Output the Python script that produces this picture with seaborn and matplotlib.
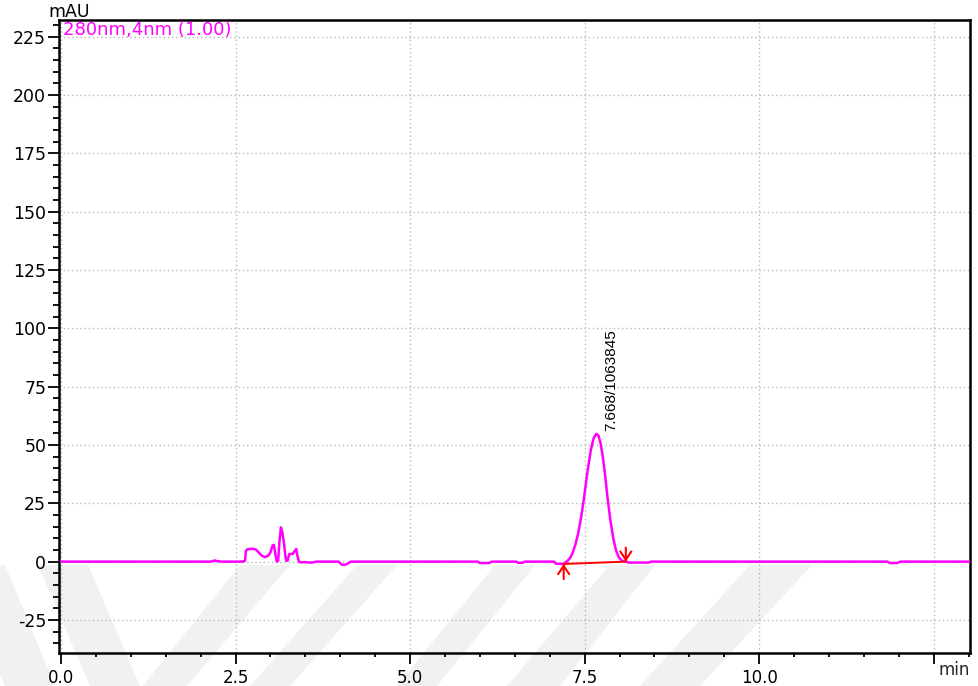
import matplotlib
matplotlib.use("Agg")
import matplotlib.pyplot as plt
from matplotlib import font_manager
from matplotlib.patches import Polygon
from matplotlib.ticker import MultipleLocator, FixedLocator
import seaborn as sns
import pandas as pd

# ---- chromatogram trace (time in min, absorbance in mAU) ----
time_min = [0.00, 2.15, 2.20, 2.24, 2.30, 2.60, 2.635, 2.65, 2.67, 2.75, 2.79,
            2.83, 2.875, 2.92, 2.97, 3.00, 3.03, 3.05, 3.07, 3.09, 3.11, 3.13,
            3.15, 3.17, 3.195, 3.21, 3.225, 3.245, 3.27, 3.32, 3.35, 3.37,
            3.385, 3.41, 3.43, 3.50, 3.55, 3.62, 3.65, 3.98, 4.02, 4.06, 4.10,
            4.15, 5.97, 6.00, 6.13, 6.17, 6.52, 6.55, 6.61, 6.64, 7.06, 7.09,
            7.20, 7.25, 7.29, 7.33, 7.37, 7.41, 7.45, 7.49, 7.54, 7.59, 7.63,
            7.668, 7.70, 7.73, 7.76, 7.79, 7.83, 7.87, 7.91, 7.95, 7.99, 8.03,
            8.07, 8.10, 8.13, 8.42, 8.45, 11.84, 11.87, 11.98, 12.02, 13.05]
absorbance = [0.0, 0.0, 0.5, 0.2, 0.0, 0.0, 0.3, 4.7, 5.3, 5.5, 5.2,
              4.0, 2.6, 1.9, 2.6, 4.0, 6.9, 7.2, 3.3, 0.0, 0.4, 9.0,
              14.7, 12.6, 7.6, 3.3, 0.4, 0.4, 3.3, 3.3, 4.7, 5.4,
              2.6, 0.0, -0.3, -0.2, -0.4, -0.3, 0.0, 0.0, -1.3, -1.4, -1.0,
              0.0, 0.0, -0.6, -0.6, 0.0, 0.0, -0.5, -0.5, 0.0, 0.0, -0.9,
              -1.0, 0.2, 1.5, 3.8, 7.5, 12.5, 19.0, 27.0, 38.5, 48.0, 53.0,
              54.8, 54.0, 50.5, 45.0, 38.0, 27.0, 17.5, 10.0, 4.8, 1.8, 0.5,
              0.1, 0.0, -0.4, -0.4, 0.0, 0.0, -0.6, -0.6, 0.0, 0.0]

# ---- integrated peak ----
peak_rt = 7.668
peak_area = 1063845
peak_height = 54.8
peak_label = f"{peak_rt:.3f}/{peak_area}"
baseline_t = [7.20, 8.09]
baseline_y = [-1.0, 0.0]

# ---- axes ticks ----
x_major = [0.0, 2.5, 5.0, 7.5, 10.0, 12.5]
x_labels = ["0.0", "2.5", "5.0", "7.5", "10.0", ""]
y_major = [-25, 0, 25, 50, 75, 100, 125, 150, 175, 200, 225]
y_labels = [str(v) for v in y_major]
channel_text = "280nm,4nm (1.00)"
trace_color = "#ff00ff"

sns.set_style("white")
plt.rcParams["font.family"] = ["DejaVu Sans"]

installed = {f.name for f in font_manager.fontManager.ttflist}
narrow = "Liberation Sans Narrow" if "Liberation Sans Narrow" in installed else "Liberation Sans"

W, H = 979, 686
fig = plt.figure(figsize=(W / 100, H / 100), dpi=100)
fig.patch.set_facecolor("white")

# faint diagonal background stripes along the bottom of the page (pixel space)
stripes = [
    [(-45, 565), (5, 565), (55, 686), (5, 686)],
    [(38, 565), (88, 565), (140, 686), (90, 686)],
    [(240, 565), (290, 565), (187, 686), (143, 686)],
    [(357, 565), (397, 565), (290, 686), (250, 686)],
    [(495, 565), (535, 565), (437, 686), (397, 686)],
    [(610, 565), (655, 565), (560, 686), (507, 686)],
    [(750, 565), (812, 565), (700, 686), (640, 686)],
]
for quad in stripes:
    pts = [(x / W, 1 - y / H) for x, y in quad]
    fig.patches.append(Polygon(pts, closed=True, transform=fig.transFigure,
                               facecolor="#f1f1f1", edgecolor="none", zorder=-1))

left, right, top, bottom = 58.7, 970.0, 20.0, 653.3
ax = fig.add_axes([left / W, 1 - bottom / H, (right - left) / W, (bottom - top) / H])
ax.set_facecolor("none")

df = pd.DataFrame({"t": time_min, "mAU": absorbance})
sns.lineplot(data=df, x="t", y="mAU", ax=ax, color=trace_color, linewidth=1.8,
             sort=False, estimator=None, zorder=3)

ax.set_xlim(-0.033, 13.02)
ax.set_ylim(-39.3, 232.2)

# grid
ax.xaxis.set_major_locator(FixedLocator(x_major))
ax.yaxis.set_major_locator(FixedLocator(y_major))
ax.xaxis.set_minor_locator(MultipleLocator(0.5))
ax.yaxis.set_minor_locator(MultipleLocator(5))
ax.grid(True, which="major", color="#b8b8b8", linestyle=(0, (1, 2)), linewidth=1.0)
ax.set_axisbelow(True)

ax.set_xticklabels(x_labels)
ax.set_yticklabels(y_labels)
ax.tick_params(axis="both", which="major", direction="out", length=8, width=1.3,
               color="black", labelcolor="black")
ax.tick_params(axis="y", which="major", pad=1, labelsize=12.5)
ax.tick_params(axis="x", which="major", pad=3, labelsize=12)
ax.tick_params(axis="y", which="minor", direction="out", length=4, width=1.3, color="black")
ax.tick_params(axis="x", which="minor", direction="out", length=3, width=1.3, color="black")
ax.tick_params(left=True, bottom=True, which="both")

for sp in ax.spines.values():
    sp.set_visible(True)
    sp.set_color("black")
    sp.set_linewidth(1.8)

ax.set_xlabel("")
ax.set_ylabel("")

# unit labels
fig.text(48 / W, 1 - 17 / H, "mAU", fontsize=12.5, color="black", ha="left", va="baseline")
ax.text(1.0, -0.012, "min", transform=ax.transAxes, fontsize=12, ha="right", va="top")
ax.text(0.005, 0.998, channel_text, transform=ax.transAxes, fontsize=13,
        color=trace_color, ha="left", va="top")

# integration baseline and start/end markers
ax.plot(baseline_t, baseline_y, color="red", linewidth=1.4, zorder=4)
arrow_style = dict(arrowstyle="->,head_length=0.6,head_width=0.4", color="red", lw=1.5,
                   shrinkA=0, shrinkB=0)
ax.annotate("", xy=(baseline_t[0], baseline_y[0]), xytext=(baseline_t[0], baseline_y[0] - 6.5),
            arrowprops=arrow_style, zorder=5)
ax.annotate("", xy=(baseline_t[1], baseline_y[1]), xytext=(baseline_t[1], baseline_y[1] + 6.0),
            arrowprops=arrow_style, zorder=5)

# peak annotation
ax.text(peak_rt + 0.21, peak_height + 1.0, peak_label, rotation=90, ha="center",
        va="bottom", fontsize=11, family=[narrow, "DejaVu Sans"], color="black")

fig.savefig("out.png", dpi=100, facecolor="white")
